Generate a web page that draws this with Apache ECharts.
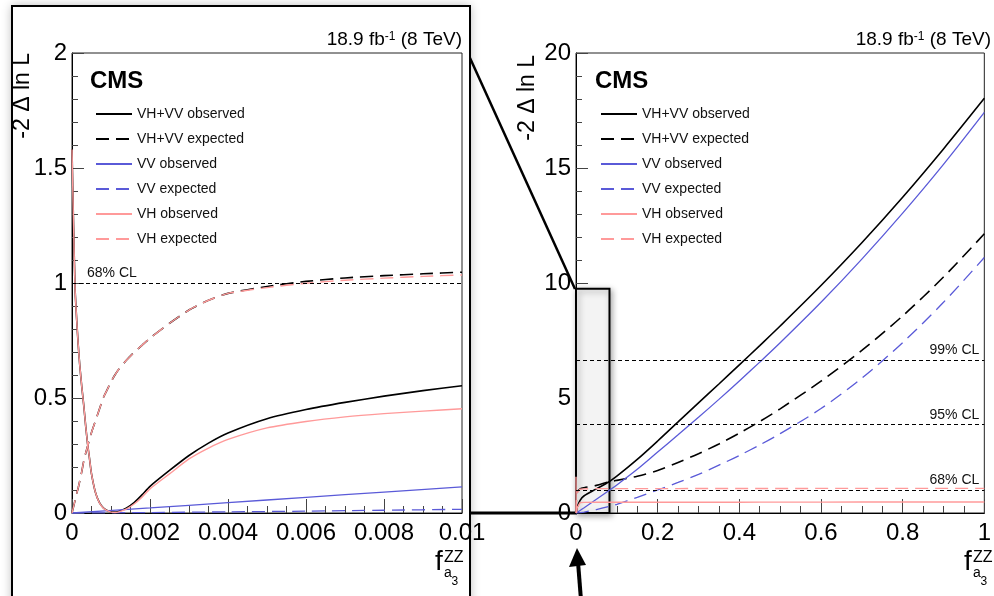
<!DOCTYPE html>
<html><head><meta charset="utf-8">
<script src="https://cdn.jsdelivr.net/npm/echarts@6/dist/echarts.min.js"></script>
<style>html,body{margin:0;padding:0;background:#fff}#c{width:994px;height:596px}</style>
</head><body><div id="c"></div>
<script>
const seriesNames = ['VH+VV observed','VH+VV expected','VV observed','VV expected','VH observed','VH expected'];

// ---- inset (zoomed) panel: f_a3 in [0, 0.01] ----
const insetF = [0,0.00004,0.00008,0.00012,0.00016,0.0002,0.00025,0.0003,0.00035,0.0004,0.00045,0.0005,0.0006,0.0007,0.0008,0.0009,0.001,0.0011,0.0012,0.0014,0.0016,0.0018,0.002,0.0025,0.003,0.0035,0.004,0.005,0.006,0.007,0.008,0.009,0.01];
const insetVHVVObs = [1.58,1.25,0.97,0.84,0.73,0.64,0.55,0.47,0.38,0.30,0.235,0.17,0.09,0.046,0.023,0.011,0.005,0.004,0.008,0.022,0.046,0.08,0.116,0.185,0.25,0.304,0.348,0.41,0.45,0.481,0.508,0.532,0.553];
const insetVHObs   = [1.58,1.25,0.97,0.84,0.73,0.64,0.55,0.47,0.38,0.30,0.235,0.17,0.09,0.045,0.022,0.01,0.004,0.002,0.005,0.018,0.04,0.07,0.105,0.17,0.235,0.2825,0.32,0.37,0.398,0.418,0.432,0.443,0.453];
const insetVHVVExp = [0,0.028,0.056,0.084,0.11,0.14,0.18,0.225,0.26,0.29,0.32,0.35,0.4,0.45,0.5,0.535,0.57,0.6,0.625,0.665,0.7,0.73,0.76,0.825,0.8825,0.925,0.955,0.985,1.007,1.022,1.032,1.04,1.047];
const insetVHExp   = [0,0.028,0.056,0.084,0.11,0.14,0.18,0.225,0.26,0.29,0.32,0.35,0.4,0.45,0.5,0.535,0.57,0.6,0.625,0.665,0.7,0.73,0.76,0.825,0.8825,0.925,0.955,0.98,0.999,1.012,1.021,1.029,1.035];
const insetVVF      = [0,0.002,0.004,0.006,0.008,0.01];
const insetVVObs    = [0,0.022,0.045,0.068,0.091,0.114];
const insetVVExp    = [0,0.002,0.005,0.008,0.012,0.016];

// ---- main panel: f_a3 in [0, 1] ----
const mainF       = [0,0.0005,0.0011,0.003,0.01,0.02,0.05,0.08,0.1,0.15,0.2,0.25,0.3,0.35,0.4,0.45,0.5,0.6,0.7,0.8,0.9,1.0];
const mainVHVVObs = [1.58,0.18,0.004,0.25,0.55,0.75,1.05,1.35,1.6,2.33,3.13,3.96,4.79,5.61,6.44,7.28,8.13,9.89,11.75,13.73,15.83,18.03];
const mainVHVVExp = [0,0.35,0.6,0.9,1.045,1.1,1.2,1.35,1.42,1.6,1.85,2.2,2.58,3.0,3.47,3.98,4.53,5.73,7.07,8.57,10.26,12.14];
const mainVVObs   = [0,0.006,0.012,0.034,0.11,0.23,0.6,0.97,1.22,1.9,2.65,3.4,4.16,4.94,5.74,6.56,7.4,9.16,11.04,13.04,15.16,17.42];
const mainVVExp   = [0,0.001,0.002,0.005,0.016,0.04,0.15,0.28,0.38,0.68,1.0,1.33,1.68,2.08,2.5,2.96,3.45,4.54,5.86,7.41,9.16,11.11];
const mainVHObs   = [1.58,0.17,0.002,0.235,0.45,0.46,0.47,0.47,0.47,0.47,0.47,0.47,0.47,0.47,0.47,0.475,0.475,0.475,0.48,0.48,0.48,0.48];
const mainVHExp   = [0,0.35,0.6,0.89,1.035,1.05,1.06,1.06,1.06,1.06,1.06,1.06,1.065,1.065,1.065,1.065,1.065,1.07,1.07,1.07,1.07,1.07];

const insetCL = [1];           const insetCLLabels = ['68% CL'];
const mainCL  = [1, 3.84, 6.63]; const mainCLLabels = ['68% CL','95% CL','99% CL'];
const zoomBox = [[0, 0], [0.082, 9.75]];

const FONT = "'Liberation Sans', Arial, Helvetica, sans-serif";
const BLACK = '#000', BLUE = '#5a5ad8', PINK = '#ff9a9a';
const DASH = [13, 7];

function zip(xs, ys) { return xs.map((x, i) => [x, ys[i]]); }
function curve(name, gi, xs, ys, color, dashed, width, smooth) {
  return {
    type: 'line', name, xAxisIndex: gi, yAxisIndex: gi, data: zip(xs, ys),
    symbol: 'none', showSymbol: false, smooth: smooth,
    lineStyle: { color, width, type: dashed ? DASH : 'solid' }, itemStyle: { color },
    z: 4, animation: false
  };
}
function clSeries(gi, vals, labels, pos, dist) {
  return {
    type: 'line', name: 'cl' + gi, xAxisIndex: gi, yAxisIndex: gi, data: [], z: 3, animation: false,
    markLine: {
      silent: true, symbol: ['none', 'none'], animation: false,
      lineStyle: { color: '#000', type: [4, 3], width: 1 },
      label: { position: pos, color: '#111', fontSize: 14, fontFamily: FONT, distance: dist },
      data: vals.map((v, i) => ({ yAxis: v, label: { formatter: labels[i] } }))
    }
  };
}

const axisCommon = {
  axisLine: { show: true, onZero: false, lineStyle: { color: '#000', width: 1 } },
  splitLine: { show: false }
};
function xAx(gi, max, interval, majLen, minLen) {
  return Object.assign({}, axisCommon, {
    type: 'value', gridIndex: gi, min: 0, max, interval,
    axisTick: { show: true, inside: true, length: majLen, lineStyle: { color: '#444' } },
    minorTick: { show: true, splitNumber: 4, length: minLen, lineStyle: { color: '#444' } },
    axisLabel: { color: '#000', fontSize: 24, fontFamily: FONT, margin: 8 }
  });
}
function yAx(gi, max, interval) {
  return Object.assign({}, axisCommon, {
    type: 'value', gridIndex: gi, min: 0, max, interval,
    axisTick: { show: true, inside: true, length: 12, lineStyle: { color: '#444' } },
    minorTick: { show: true, splitNumber: 5, length: 6, lineStyle: { color: '#444' } },
    axisLabel: { color: '#000', fontSize: 24, fontFamily: FONT, margin: 5 }
  });
}

const S_IN = 0.2, S_MAIN = 0.3;
const series = [
  curve(seriesNames[0], 0, insetF, insetVHVVObs, BLACK, false, 1.6, S_IN),
  curve(seriesNames[1], 0, insetF, insetVHVVExp, BLACK, true, 1.6, S_IN),
  curve(seriesNames[2], 0, insetVVF, insetVVObs, BLUE, false, 1.3, S_IN),
  curve(seriesNames[3], 0, insetVVF, insetVVExp, BLUE, true, 1.3, S_IN),
  curve(seriesNames[4], 0, insetF, insetVHObs, PINK, false, 1.4, S_IN),
  curve(seriesNames[5], 0, insetF, insetVHExp, PINK, true, 1.4, S_IN),
  clSeries(0, insetCL, insetCLLabels, 'insideStartTop', [15, 3]),
  {
    type: 'line', name: 'box', xAxisIndex: 1, yAxisIndex: 1, data: [], z: 2, animation: false,
    markArea: {
      silent: true, animation: false,
      itemStyle: { color: '#f3f3f3', borderColor: '#000', borderWidth: 2,
                   shadowBlur: 6, shadowColor: 'rgba(0,0,0,0.35)', shadowOffsetX: 2, shadowOffsetY: 2 },
      data: [[{ xAxis: zoomBox[0][0], yAxis: zoomBox[0][1] }, { xAxis: zoomBox[1][0], yAxis: zoomBox[1][1] }]]
    }
  },
  curve(seriesNames[0], 1, mainF, mainVHVVObs, BLACK, false, 1.6, S_MAIN),
  curve(seriesNames[1], 1, mainF, mainVHVVExp, BLACK, true, 1.6, S_MAIN),
  curve(seriesNames[2], 1, mainF, mainVVObs, BLUE, false, 1.3, S_MAIN),
  curve(seriesNames[3], 1, mainF, mainVVExp, BLUE, true, 1.3, S_MAIN),
  curve(seriesNames[4], 1, mainF, mainVHObs, PINK, false, 1.4, false),
  curve(seriesNames[5], 1, mainF, mainVHExp, PINK, true, 1.4, false),
  clSeries(1, mainCL, mainCLLabels, 'insideEndTop', [5, 3])
];

function legend(left) {
  return {
    left, top: 107, padding: 0, orient: 'vertical', itemWidth: 36, itemHeight: 14, itemGap: 11,
    selectedMode: false, data: seriesNames,
    itemStyle: { opacity: 0, borderWidth: 0 },
    textStyle: { fontSize: 14, color: '#111', fontFamily: FONT, lineHeight: 14 }
  };
}

function lumi(xRight) {
  return { type: 'text', x: xRight, y: 40, z: 20, style: {
    text: '{a|18.9 fb}{s|-1}{a| (8 TeV)}', textAlign: 'right', textVerticalAlign: 'middle',
    rich: { a: { fontSize: 19, fontFamily: FONT, fill: '#000', color: '#000' },
            s: { fontSize: 12, fontFamily: FONT, fill: '#000', color: '#000', verticalAlign: 'top', padding: [0, 0, 6, 0] } } } };
}
function cms(x) {
  return { type: 'text', x, y: 81, z: 20, style: { text: 'CMS', font: 'bold 24px ' + FONT, fill: '#000', textVerticalAlign: 'middle' } };
}
function yTitle(x, y) {
  return { type: 'text', x, y, rotation: Math.PI / 2, z: 20, style: { text: '-2 \u0394 ln L', font: '23px ' + FONT, fill: '#000', textAlign: 'right', textVerticalAlign: 'middle' } };
}
function xTitle(x) {
  return [
    { type: 'text', x, y: 562, z: 20, style: { text: 'f', font: '28px ' + FONT, fill: '#000', textVerticalAlign: 'middle' } },
    { type: 'text', x: x + 9, y: 558, z: 20, style: { text: 'ZZ', font: '16px ' + FONT, fill: '#000', textVerticalAlign: 'middle' } },
    { type: 'text', x: x + 9, y: 573, z: 20, style: { text: 'a', font: '14px ' + FONT, fill: '#000', textVerticalAlign: 'middle' } },
    { type: 'text', x: x + 16.5, y: 582, z: 20, style: { text: '3', font: '12px ' + FONT, fill: '#000', textVerticalAlign: 'middle' } }
  ];
}

const graphic = [
  { type: 'line', z: -3, shape: { x1: 470, y1: 58, x2: 575, y2: 289 }, style: { stroke: '#000', lineWidth: 2.5 } },
  { type: 'line', z: -3, shape: { x1: 470, y1: 513, x2: 577, y2: 513 }, style: { stroke: '#000', lineWidth: 3 } },
  { type: 'rect', z: -2, shape: { x: 12, y: 6, width: 458, height: 640 }, style: { fill: '#fff', shadowBlur: 10, shadowColor: 'rgba(0,0,0,0.3)' } },
  { type: 'rect', z: 50, shape: { x: 12, y: 6, width: 458, height: 640 }, style: { fill: 'none', stroke: '#000', lineWidth: 2 } },
  cms(90), cms(595), lumi(462), lumi(991),
  yTitle(23, 53), yTitle(528, 55),
  ...xTitle(435), ...xTitle(964),
  { type: 'polygon', z: 30, shape: { points: [[577, 548], [569, 567], [586, 565]] }, style: { fill: '#000' } },
  { type: 'line', z: 30, shape: { x1: 578, y1: 562, x2: 581, y2: 600 }, style: { stroke: '#000', lineWidth: 4 } }
];

const chart = echarts.init(document.getElementById('c'), null, { renderer: 'canvas' });
chart.setOption({
  backgroundColor: '#fff',
  animation: false,
  textStyle: { fontFamily: FONT },
  grid: [
    { left: 72, top: 53, width: 390, height: 460, show: true, borderColor: '#222', borderWidth: 1, backgroundColor: 'transparent' },
    { left: 576, top: 53, width: 415, height: 460, show: true, borderColor: '#222', borderWidth: 1, backgroundColor: 'transparent' }
  ],
  xAxis: [xAx(0, 0.01, 0.002, 14, 7), xAx(1, 1, 0.2, 14, 7)],
  yAxis: [yAx(0, 2, 0.5), yAx(1, 20, 5)],
  legend: [legend(95), legend(600)],
  series,
  graphic
});
</script></body></html>
